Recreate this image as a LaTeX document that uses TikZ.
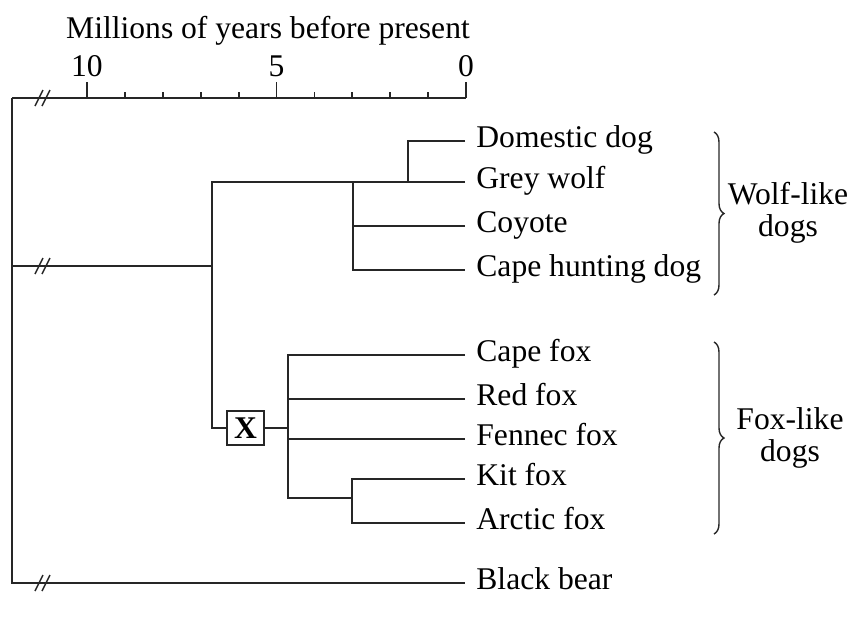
\documentclass[tikz,border=0pt]{standalone}
\usepackage{fontspec}
\setmainfont{Liberation Serif}
\usetikzlibrary{positioning, decorations.pathreplacing}

\newcommand{\labfont}{\fontsize{15.8}{16}\selectfont}

\tikzset{
    branch/.style={line width=0.9pt, black!85},
    cut/.style={line width=0.7pt, black!85},
    taxon/.style={anchor=west, inner xsep=5.5pt, inner ysep=0pt, text height=0.66em, text depth=0pt, font=\labfont},
    group/.style={align=center, font=\labfont},
    bracket/.style={decorate, decoration={brace, amplitude=5pt}, line width=0.7pt, black!85},
}

\begin{document}
\begin{tikzpicture}[x=0.5pt, y=-0.5pt]
    \useasboundingbox (0,0) rectangle (853,623);

    % time axis
    \node[font=\labfont, anchor=base] (title) at (268,38) {Millions of years before present};
    \coordinate (root) at (12,98);
    \coordinate (now) at (466,98);
    \draw[branch] (root) -- (now);
    \foreach \k in {0,...,10}
        \draw[branch] (466-37.9*\k,98) -- ++(0,-6);
    \foreach \k/\lab in {0/0, 5/5, 10/10} {
        \draw[branch] (466-37.9*\k,98) -- ++(0,-16);
        \node[font=\labfont, anchor=base] (t\k) at (466-37.9*\k,76) {\lab};
    }

    % taxa
    \node[taxon] (dog) at (465,141) {Domestic dog};
    \node[taxon] (wolf) at (465,182) {Grey wolf};
    \node[taxon] (coyote) at (465,226) {Coyote};
    \node[taxon] (hunting) at (465,270) {Cape hunting dog};
    \node[taxon] (capefox) at (465,355) {Cape fox};
    \node[taxon] (redfox) at (465,399) {Red fox};
    \node[taxon] (fennec) at (465,439) {Fennec fox};
    \node[taxon] (kitfox) at (465,479) {Kit fox};
    \node[taxon] (arctic) at (465,523) {Arctic fox};
    \node[taxon] (bear) at (465,583) {Black bear};

    \node[draw, line width=0.8pt, black!85, text=black, minimum width=18.5pt, minimum height=17pt,
          inner sep=0pt, font=\labfont\bfseries] (xbox) at (245.5,428) {X};

    % split points
    \coordinate (basal) at (12,266);
    \coordinate (canid) at (212,428);
    \coordinate (wolfsplit) at (353,182);
    \coordinate (dogsplit) at (408,182);
    \coordinate (foxsplit) at (288,428);
    \coordinate (foxlow) at (288,498);
    \coordinate (kitsplit) at (352,498);

    % branches
    \draw[branch] (root) |- (bear.west);
    \draw[branch] (basal) -- (basal -| canid);
    \draw[branch] (wolf.west) -| (canid) -- (xbox.west);
    \draw[branch] (wolfsplit) |- (hunting.west);
    \draw[branch] (coyote.west) -- (coyote.west -| wolfsplit);
    \draw[branch] (dog.west) -| (dogsplit);
    \draw[branch] (xbox.east) -- (foxsplit);
    \draw[branch] (capefox.west) -| (foxlow) -- (kitsplit);
    \draw[branch] (redfox.west) -- (redfox.west -| foxsplit);
    \draw[branch] (fennec.west) -- (fennec.west -| foxsplit);
    \draw[branch] (kitfox.west) -| (kitsplit) |- (arctic.west);

    % broken lines
    \foreach \y in {98,266,583}
        \foreach \dx in {0,7}
            \draw[cut] (35+\dx,\y+8) -- (43+\dx,\y-8);

    % groups
    \draw[bracket] (714,132) -- (714,295);
    \node[group] (wolflike) at (788,213) {Wolf-like\\dogs};
    \draw[bracket] (714,342) -- (714,534);
    \node[group] (foxlike) at (790,438) {Fox-like\\dogs};
\end{tikzpicture}
\end{document}
